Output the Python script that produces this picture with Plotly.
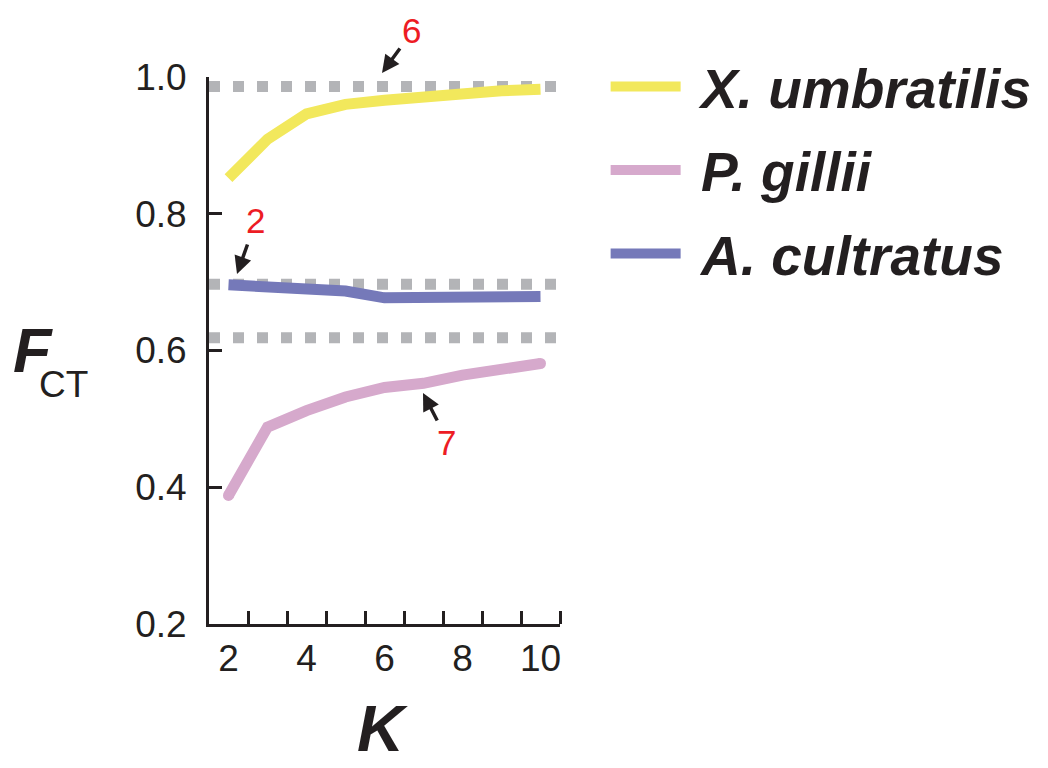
import plotly.graph_objects as go

K = [2, 3, 4, 5, 6, 7, 8, 9, 10]
x_umbratilis = [0.852, 0.909, 0.946, 0.960, 0.966, 0.972, 0.976, 0.980, 0.982]
p_gillii = [0.388, 0.488, 0.512, 0.532, 0.546, 0.552, 0.564, 0.572, 0.581]
a_cultratus = [0.696, 0.693, 0.690, 0.687, 0.677, 0.677, 0.680, 0.679, 0.679]
reference_levels = [0.986, 0.697, 0.6185]
x_tick_vals = [2, 4, 6, 8, 10]
x_minor_ticks = [2.5, 3.5, 4.5, 5.5, 6.5, 7.5, 8.5, 9.5, 10.5]
y_tick_vals = [0.2, 0.4, 0.6, 0.8, 1.0]

names = ["X. umbratilis", "P. gillii", "A. cultratus"]
colors = ["#f2e85c", "#d6a9cc", "#7579b9"]
INK = "#231f20"
RED = "#ed1c24"
FONT = "Liberation Sans, Arial, sans-serif"

fig = go.Figure()
for nm, ys, c in zip(names, [x_umbratilis, p_gillii, a_cultratus], colors):
    fig.add_trace(go.Scatter(x=K, y=ys, mode="lines", name="\u00a0" + nm,
                             line=dict(color=c, width=11), legendgroup=nm))
# rounded ends for P. gillii
fig.add_trace(go.Scatter(x=[K[0], K[-1]], y=[p_gillii[0], p_gillii[-1]], mode="markers",
                         marker=dict(color=colors[1], size=11), showlegend=False,
                         hoverinfo="skip"))

for lv in reference_levels:
    fig.add_shape(type="line", xref="paper", x0=0, x1=1, yref="y", y0=lv, y1=lv,
                  line=dict(color="#b3b4b7", width=11, dash="11px,13px"), layer="below")

PLOT_H = 547.0
def py(pix):
    return (624 - pix) / PLOT_H

ann = []
# y-axis title F_CT
ann.append(dict(text="F", xref="paper", x=0, xshift=33 - 209, xanchor="center",
                yref="paper", y=py(350), yanchor="middle",
                showarrow=False, font=dict(family=FONT, size=63, color=INK, weight="bold", style="italic")))
ann.append(dict(text="CT", xref="paper", x=0, xshift=63.5 - 209, xanchor="center",
                yref="paper", y=py(384), yanchor="middle",
                showarrow=False, font=dict(family=FONT, size=37, color=INK)))
# x-axis title K
ann.append(dict(text="K", xref="paper", x=(382 - 209) / 351.0, xanchor="center",
                yref="paper", y=0, yshift=-(767 - 624), yanchor="bottom",
                showarrow=False, font=dict(family=FONT, size=65, color=INK, weight="bold", style="italic")))
# red labels with arrows (positions in pixels: text centre, arrow tip, tail offset)
labels = [("6", 411, 31, 382, 73, 19, -26),
          ("2", 255, 220, 237, 274, 11, -31),
          ("7", 446, 442, 423, 393, 15, 29)]
for t, tx, ty, axp, ayp, dx, dy in labels:
    ann.append(dict(text=t, xref="paper", x=(tx - 209) / 351.0, xanchor="center",
                    yref="paper", y=py(ty), yanchor="middle", showarrow=False,
                    font=dict(family=FONT, size=35, color=RED)))
    ann.append(dict(text="", xref="paper", x=(axp - 209) / 351.0, yref="paper", y=py(ayp),
                    showarrow=True, ax=dx, ay=dy, arrowhead=2, arrowsize=1,
                    arrowwidth=3.5, arrowcolor=INK))

fig.update_layout(
    width=1048, height=768,
    margin=dict(l=209, r=488, t=77, b=144, autoexpand=False),
    paper_bgcolor="white", plot_bgcolor="white",
    font=dict(family=FONT, color=INK),
    annotations=ann,
    showlegend=True,
    legend=dict(x=1.13, y=1.06, xanchor="left", yanchor="top",
                font=dict(family=FONT, size=55, color=INK, weight="bold", style="italic"),
                itemwidth=70, tracegroupgap=9, bgcolor="rgba(0,0,0,0)"),
    xaxis=dict(range=[1.5, 10.5], showgrid=False, zeroline=False, automargin=False,
               showline=True, linecolor=INK, linewidth=3,
               tickmode="array", tickvals=x_tick_vals, ticktext=[str(v) for v in x_tick_vals],
               ticks="", tickfont=dict(family=FONT, size=37, color=INK),
               minor=dict(tickmode="array", tickvals=x_minor_ticks, ticks="inside",
                          ticklen=13, tickwidth=3, tickcolor=INK, showgrid=False)),
    yaxis=dict(range=[0.2, 1.0], showgrid=False, zeroline=False, automargin=False,
               showline=True, linecolor=INK, linewidth=3,
               tickmode="array", tickvals=y_tick_vals, tickformat=".1f",
               ticks="inside", ticklen=13, tickwidth=3, tickcolor=INK,
               ticklabelstandoff=12,
               tickfont=dict(family=FONT, size=37, color=INK)),
)

fig.write_html("out.html")
